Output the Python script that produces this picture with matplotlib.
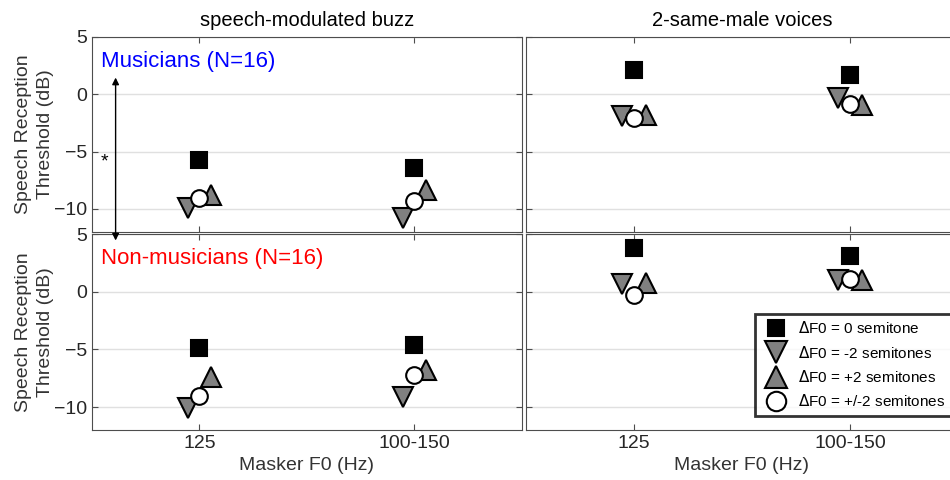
import matplotlib.pyplot as plt

plt.rcParams['font.family'] = ['Liberation Sans', 'DejaVu Sans']

masker_f0 = ["125", "100-150"]
maskers = ["speech-modulated buzz", "2-same-male voices"]
cond_labels = [r"$\Delta$F0 = 0 semitone", r"$\Delta$F0 = -2 semitones",
               r"$\Delta$F0 = +2 semitones", r"$\Delta$F0 = +/-2 semitones"]

# rows: dF0 = 0, -2, +2, +/-2 ; columns: 125, 100-150
mus_buzz = [[-5.7, -6.4], [-9.9, -10.8], [-8.8, -8.35], [-9.05, -9.35]]
mus_voices = [[2.1, 1.65], [-1.9, -0.35], [-1.8, -0.95], [-2.05, -0.85]]
non_buzz = [[-4.9, -4.6], [-10.1, -9.1], [-7.4, -6.8], [-9.0, -7.2]]
non_voices = [[3.8, 3.1], [0.65, 1.05], [0.75, 1.0], [-0.25, 1.1]]

mus_buzz_err = [[0.4, 0.3], [0.4, 0.5], [0.4, 0.4], [0.3, 0.3]]
mus_voices_err = [[0.5, 0.3], [0.4, 0.4], [0.5, 0.5], [0.3, 0.3]]
non_buzz_err = [[0.5, 0.6], [0.4, 0.4], [0.6, 0.6], [0.3, 0.3]]
non_voices_err = [[0.4, 0.7], [0.4, 0.4], [0.4, 0.5], [0.3, 0.3]]

shift = [0.0, -0.055, 0.055, 0.0]
markers = ["s", "v", "^", "o"]
faces = ["black", "0.5", "0.5", "white"]
sizes = [11, 14, 14, 12]

fig = plt.figure(figsize=(9.5, 4.8), dpi=100)
axes = [[fig.add_axes([0.0968, 0.517, 0.4526, 0.406]), fig.add_axes([0.5537, 0.517, 0.4547, 0.406])],
        [fig.add_axes([0.0968, 0.104, 0.4526, 0.408]), fig.add_axes([0.5537, 0.104, 0.4547, 0.408])]]

data = [[mus_buzz, mus_voices], [non_buzz, non_voices]]
errs = [[mus_buzz_err, mus_voices_err], [non_buzz_err, non_voices_err]]

x = [1, 2]
for r in range(2):
    for c in range(2):
        ax = axes[r][c]
        for k in [0, 1, 2, 3]:
            xs = [xi + shift[k] for xi in x]
            ax.errorbar(xs, data[r][c][k], yerr=errs[r][c][k], fmt="none",
                        ecolor="black", elinewidth=1.2, capsize=0, zorder=3)
            ax.plot(xs, data[r][c][k], linestyle="none", marker=markers[k],
                    markersize=sizes[k], markerfacecolor=faces[k],
                    markeredgecolor="black", markeredgewidth=1.5,
                    label=cond_labels[k], zorder=4 + k)
        ax.set_xlim(0.5, 2.5)
        ax.set_ylim(-12, 5)
        ax.set_xticks(x)
        ax.set_yticks([-10, -5, 0, 5])
        ax.grid(axis="y", color="0.88", linewidth=1)
        ax.set_axisbelow(True)
        ax.tick_params(direction="in", top=True, right=True, length=4,
                       labelsize=14, color="0.3", labelcolor="0.15")
        for s in ax.spines.values():
            s.set_color("0.3")
        if r == 0:
            ax.set_xticklabels([])
            ax.set_title(maskers[c], fontsize=14.5, pad=8)
        else:
            ax.set_xticklabels(masker_f0)
            ax.set_xlabel("Masker F0 (Hz)", fontsize=14, color="0.2", labelpad=4)
        if c == 0:
            ax.set_ylabel("Speech Reception\nThreshold (dB)", fontsize=14, color="0.2",
                          linespacing=1.4, labelpad=0)
        else:
            ax.set_yticklabels([])

axes[0][0].text(0.02, 0.93, "Musicians (N=16)", color="blue", fontsize=16,
                transform=axes[0][0].transAxes, va="top")
axes[1][0].text(0.02, 0.93, "Non-musicians (N=16)", color="red", fontsize=16,
                transform=axes[1][0].transAxes, va="top")

# double arrow spanning both groups, with significance star
axes[0][0].set_zorder(5)
axes[0][0].annotate("", xy=(0.61, -13.0), xytext=(0.61, 1.7),
                    arrowprops=dict(arrowstyle="<|-|>", color="black", lw=1,
                                    mutation_scale=10),
                    annotation_clip=False, zorder=10)
axes[0][0].text(0.56, -5.9, "*", fontsize=14, ha="center", va="center")

leg = axes[1][1].legend(loc="upper left", bbox_to_anchor=(0.53, 0.592), fontsize=11,
                        frameon=True, fancybox=False, borderpad=0.4,
                        handletextpad=0.4, labelspacing=0.55, handlelength=2.0,
                        borderaxespad=0)
for h, ms in zip(leg.legend_handles, [12, 16, 16, 14]):
    h.set_markersize(ms)
leg.get_frame().set_edgecolor("black")
leg.get_frame().set_linewidth(2)

fig.savefig("out.png", dpi=100)
